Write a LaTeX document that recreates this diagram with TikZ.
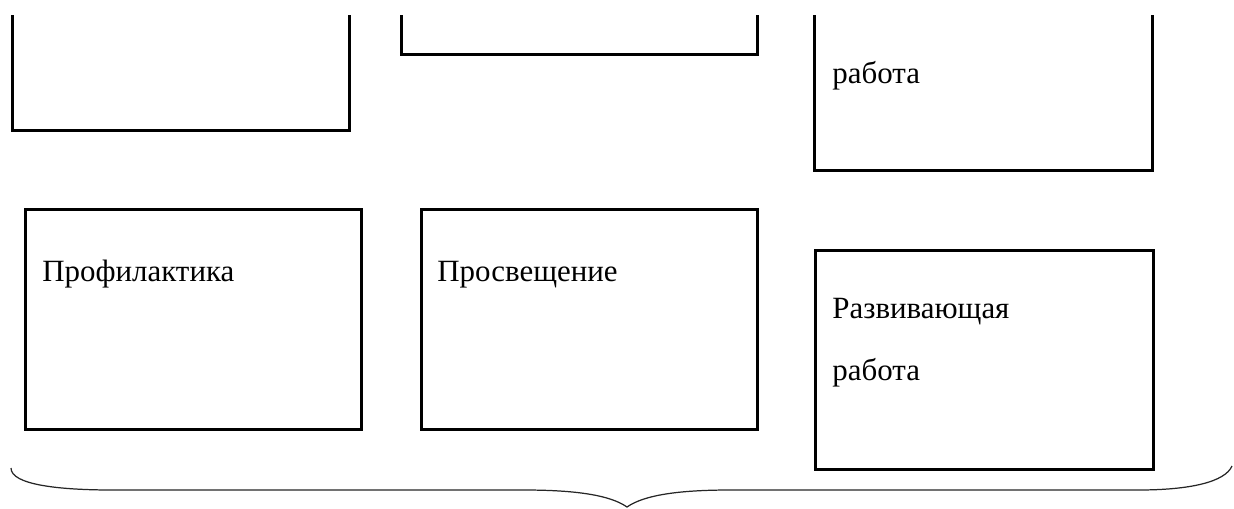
\documentclass[tikz,border=0pt]{standalone}
\usepackage{fontspec}
\setmainfont{Liberation Serif}

\begin{document}
\begin{tikzpicture}[x=0.2mm, y=-0.2mm,
        box/.style={draw, line width=0.5mm, rectangle, anchor=north west, inner sep=0pt,
            minimum width=67.2mm, minimum height=44mm},
        txt/.style={anchor=base west, inner sep=0pt, font=\fontsize{17.6}{20}\selectfont},
        brace/.style={line width=0.7pt, draw=black!85}]
        \useasboundingbox (0,0) rectangle (1234,508);

        \begin{scope}
            \clip (0,15) rectangle (1234,508);
            \node [box, minimum width=67.4mm] (topA) at (11,-91) {};
            \node [box, minimum width=71.2mm] (topB) at (400,-167) {};
            \node [box, minimum width=67.6mm] (topC) at (813,-51) {};
        \end{scope}
        \node [txt] (topCtext) at (832,83) {работа};

        \node [box] (prof) at (24,208) {};
        \node [box] (prosv) at (420,208) {};
        \node [box, minimum width=67.6mm, minimum height=43.8mm] (razv) at (814,249) {};
        \node [txt] (proftext) at (42,281) {Профилактика};
        \node [txt] (prosvtext) at (437,281) {Просвещение};
        \node [txt] (razvtext) at (832,318) {Развивающая};
        \node [txt] (razvtext2) at (832,380) {работа};

        \coordinate (bl) at (11,468);
        \coordinate (bml) at (524,490);
        \coordinate (btip) at (627,507);
        \coordinate (bmr) at (730,490);
        \coordinate (br) at (1232,466);
        \draw [brace] (bl) .. controls (11,485) and (60,490) .. (113,490) -- (bml)
            .. controls (575,490) and (610,495) .. (btip)
            .. controls (644,495) and (679,490) .. (bmr) -- (1138,490)
            .. controls (1190,490) and (1225,482) .. (br);
\end{tikzpicture}
\end{document}
